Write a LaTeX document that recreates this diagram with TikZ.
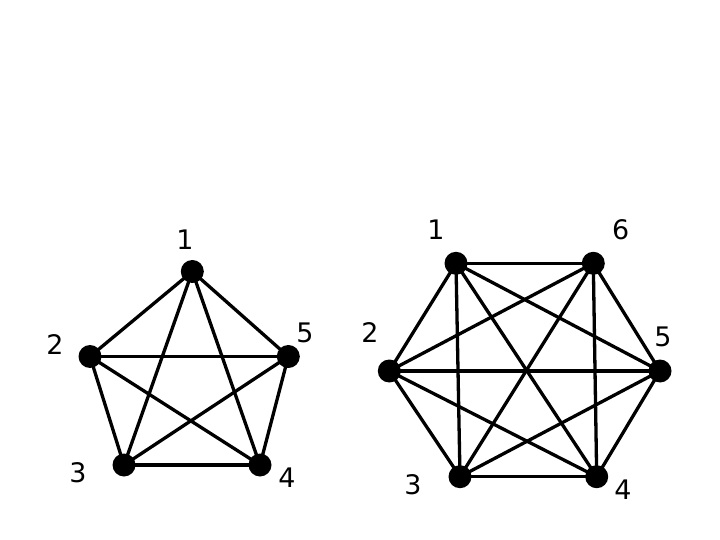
\documentclass[tikz,border=0pt]{standalone}
\usepackage{fontspec}
\setmainfont{DejaVu Sans}
\begin{document}
\begin{tikzpicture}[x=1bp,y=-1bp,
  vert/.style={circle,fill=black,inner sep=0pt,minimum size=23bp},
  lab/.style={font=\fontsize{27}{32}\selectfont,inner sep=0pt},
  edge/.style={line width=3.3bp}]
\useasboundingbox (0,0) rectangle (720,540);
% K5
\node[vert] (a1) at (192.3,271.5) {};
\node[vert] (a2) at (90,356.5) {};
\node[vert] (a5) at (288.3,356.5) {};
\node[vert] (a3) at (124,465) {};
\node[vert] (a4) at (260,465) {};
\node[lab] (la1) at (185,240) {1};
\node[lab] (la2) at (55,345) {2};
\node[lab] (la5) at (305,333) {5};
\node[lab] (la3) at (78,473) {3};
\node[lab] (la4) at (287,478) {4};
\foreach \u/\v in {1/2,1/3,1/4,1/5,2/3,2/4,2/5,3/4,3/5,4/5}
  \draw[edge] (a\u.center) -- (a\v.center);
% K6
\node[vert] (b1) at (456,263.3) {};
\node[vert] (b6) at (593.3,263.3) {};
\node[vert] (b2) at (389.3,371) {};
\node[vert] (b5) at (660,371) {};
\node[vert] (b3) at (460,476.7) {};
\node[vert] (b4) at (596.7,476.7) {};
\node[lab] (lb1) at (436,230) {1};
\node[lab] (lb6) at (620.7,230) {6};
\node[lab] (lb2) at (370,333) {2};
\node[lab] (lb5) at (663,337) {5};
\node[lab] (lb3) at (413,485) {3};
\node[lab] (lb4) at (623,490) {4};
\foreach \u/\v in {1/2,1/3,1/4,1/5,1/6,2/3,2/4,2/5,2/6,3/4,3/5,3/6,4/5,4/6,5/6}
  \draw[edge] (b\u.center) -- (b\v.center);
\end{tikzpicture}
\end{document}
